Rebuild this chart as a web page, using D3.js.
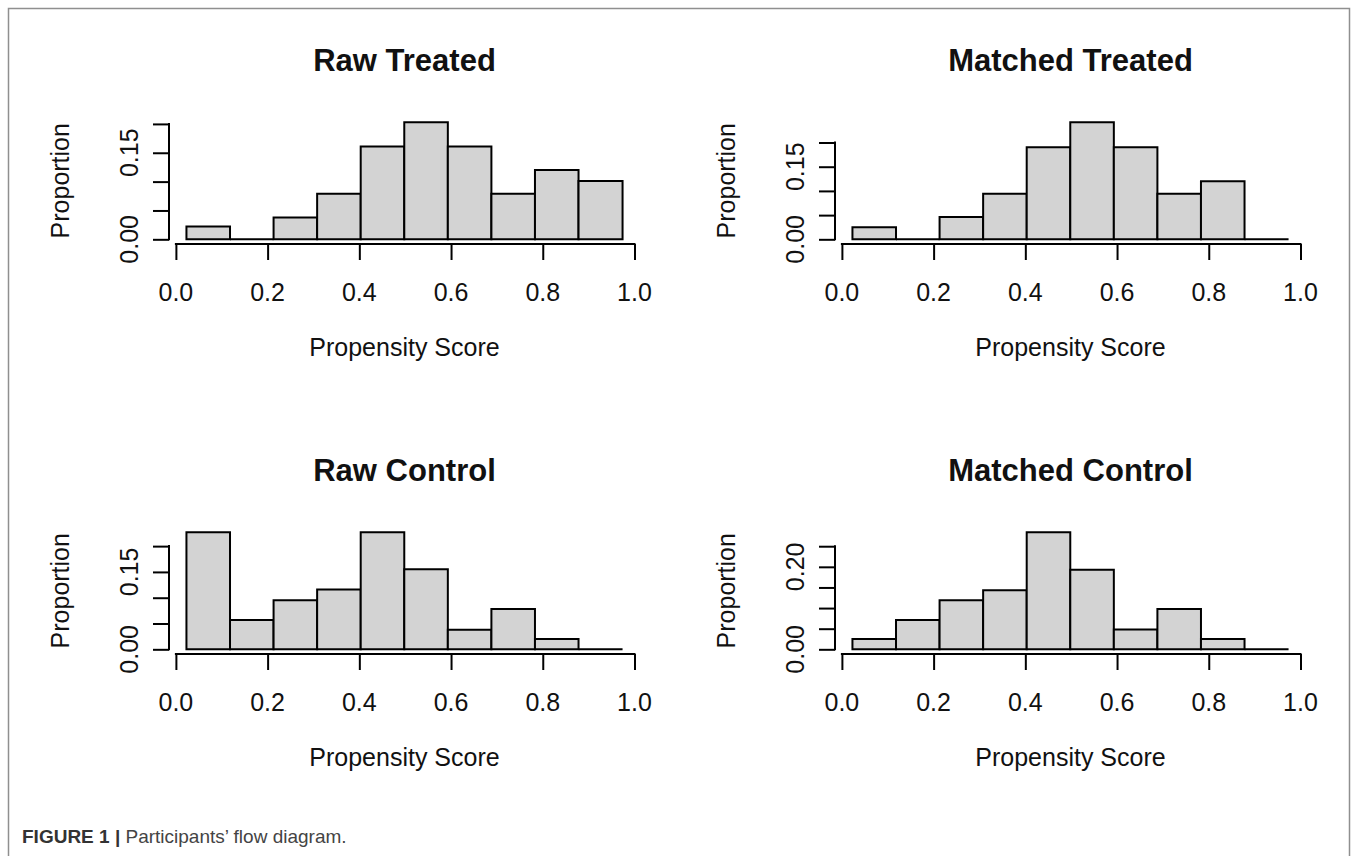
<!DOCTYPE html>
<html>
<head>
<meta charset="utf-8">
<script src="https://cdn.jsdelivr.net/npm/d3@7"></script>
<style>
  body { margin: 0; background: #fff; }
  text { font-family: "Liberation Sans", Arial, sans-serif; fill: #111; }
</style>
</head>
<body>
<svg id="chart" width="1358" height="856"></svg>
<script>
// histogram breaks shared by all four panels (propensity score bins)
const breaks = [0.023, 0.118, 0.213, 0.308, 0.403, 0.498, 0.593, 0.688, 0.783, 0.878, 0.974];

const titles = ['Raw Treated', 'Matched Treated', 'Raw Control', 'Matched Control'];

// proportions per bin
const rawTreated     = [0.022, 0, 0.038, 0.079, 0.161, 0.203, 0.161, 0.079, 0.120, 0.101];
const matchedTreated = [0.025, 0, 0.046, 0.094, 0.190, 0.242, 0.190, 0.094, 0.120, 0];
const rawControl     = [0.227, 0.057, 0.095, 0.116, 0.227, 0.155, 0.038, 0.078, 0.020, 0];
const matchedControl = [0.025, 0.071, 0.119, 0.143, 0.284, 0.193, 0.048, 0.098, 0.025, 0];

const xTicks = [0, 0.2, 0.4, 0.6, 0.8, 1.0];
const xTickLabels = ['0.0', '0.2', '0.4', '0.6', '0.8', '1.0'];

const yTicks = [
    [0, 0.05, 0.10, 0.15, 0.20],
    [0, 0.05, 0.10, 0.15, 0.20],
    [0, 0.05, 0.10, 0.15, 0.20],
    [0, 0.05, 0.10, 0.15, 0.20, 0.25]
];
// R drops labels that would overlap, so only some are printed
const yTickLabels = [
    ['0.00', '', '', '0.15', ''],
    ['0.00', '', '', '0.15', ''],
    ['0.00', '', '', '0.15', ''],
    ['0.00', '', '', '', '0.20', '']
];

const series = [rawTreated, matchedTreated, rawControl, matchedControl];

const svg = d3.select('#chart');
svg.append('rect').attr('width', 1358).attr('height', 856).attr('fill', '#fff');

// outer figure frame
svg.append('path')
    .attr('d', 'M8.5,856 V8.5 H1349.5 V856')
    .attr('fill', 'none')
    .attr('stroke', '#8f8f8f')
    .attr('stroke-width', 1.5);

const colLeft = [169, 835];
const rowTop = [117.5, 527.5];
const plotW = 471;
const plotH = 126.5;
const tickLen = 16;

series.forEach(function(vals, i) {
    const L = colLeft[i % 2];
    const T = rowTop[Math.floor(i / 2)];
    const B = T + plotH;
    const b0 = breaks[0], bN = breaks[breaks.length - 1];
    const ymax = d3.max(vals);

    // R style 4% padding on both axes
    const x = d3.scaleLinear()
        .domain([b0 - 0.04 * (bN - b0), bN + 0.04 * (bN - b0)])
        .range([L, L + plotW]);
    const y = d3.scaleLinear()
        .domain([-0.04 * ymax, 1.04 * ymax])
        .range([B, T]);

    const g = svg.append('g');

    // bars (paths so that empty bins still show as a flat line)
    g.selectAll('path.bar')
        .data(vals)
        .join('path')
        .attr('class', 'bar')
        .attr('d', function(d, k) {
            const x0 = x(breaks[k]), x1 = x(breaks[k + 1]);
            return 'M' + x0 + ',' + y(0) + 'V' + y(d) + 'H' + x1 + 'V' + y(0) + 'Z';
        })
        .attr('fill', '#d3d3d3')
        .attr('stroke', '#000')
        .attr('stroke-width', 2);

    // x axis
    const xa = g.append('g')
        .attr('transform', 'translate(0,' + B + ')')
        .call(d3.axisBottom(x).tickValues(xTicks).tickSize(tickLen).tickFormat(''));
    xa.select('.domain').remove();
    xa.selectAll('line').attr('stroke', '#000').attr('stroke-width', 2);
    xa.append('line')
        .attr('x1', x(xTicks[0]) - 1).attr('x2', x(xTicks[xTicks.length - 1]) + 1)
        .attr('stroke', '#000').attr('stroke-width', 2);

    g.selectAll('text.xt')
        .data(xTicks)
        .join('text')
        .attr('class', 'xt')
        .attr('x', function(d) { return x(d); })
        .attr('y', B + 57)
        .attr('text-anchor', 'middle')
        .style('font-size', '25px')
        .text(function(d, k) { return xTickLabels[k]; });

    // y axis
    const ticks = yTicks[i];
    const ya = g.append('g')
        .attr('transform', 'translate(' + L + ',0)')
        .call(d3.axisLeft(y).tickValues(ticks).tickSize(tickLen).tickFormat(''));
    ya.select('.domain').remove();
    ya.selectAll('line').attr('stroke', '#000').attr('stroke-width', 2);
    ya.append('line')
        .attr('y1', y(ticks[0]) + 1).attr('y2', y(ticks[ticks.length - 1]) - 1)
        .attr('stroke', '#000').attr('stroke-width', 2);

    g.selectAll('text.yt')
        .data(ticks)
        .join('text')
        .attr('class', 'yt')
        .attr('transform', function(d) {
            return 'translate(' + (L - 31) + ',' + y(d) + ') rotate(-90)';
        })
        .attr('text-anchor', 'middle')
        .style('font-size', '25px')
        .text(function(d, k) { return yTickLabels[i][k]; });

    // titles and axis labels
    g.append('text')
        .attr('x', L + plotW / 2)
        .attr('y', T - 47)
        .attr('text-anchor', 'middle')
        .style('font-size', '31px')
        .style('font-weight', 'bold')
        .text(titles[i]);

    g.append('text')
        .attr('x', L + plotW / 2)
        .attr('y', B + 112)
        .attr('text-anchor', 'middle')
        .style('font-size', '25px')
        .text('Propensity Score');

    g.append('text')
        .attr('transform', 'translate(' + (L - 100) + ',' + (T + plotH / 2) + ') rotate(-90)')
        .attr('text-anchor', 'middle')
        .style('font-size', '25px')
        .text('Proportion');
});

// caption
const cap = svg.append('text')
    .attr('x', 22)
    .attr('y', 843)
    .style('font-size', '19px');
cap.append('tspan')
    .style('font-weight', 'bold')
    .style('fill', '#333')
    .text('FIGURE 1 |');
cap.append('tspan')
    .style('fill', '#444')
    .text(' Participants\u2019 flow diagram.');
</script>
</body>
</html>
